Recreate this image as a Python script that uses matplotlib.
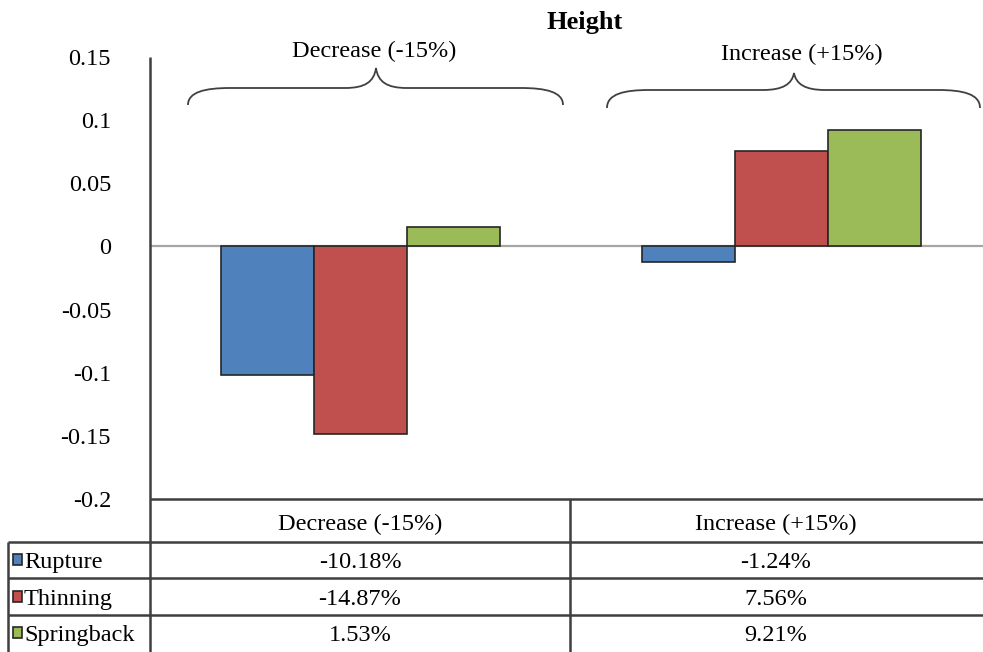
import numpy as np
import matplotlib.pyplot as plt
from matplotlib.path import Path
from matplotlib.patches import PathPatch, Rectangle

plt.rcParams['font.family'] = ['Liberation Serif', 'DejaVu Serif']

# Relative change of each response for the two height variations.
categories = ["Decrease (-15%)", "Increase (+15%)"]
series = ["Rupture", "Thinning", "Springback"]
rupture = [-0.1018, -0.0124]
thinning = [-0.1487, 0.0756]
springback = [0.0153, 0.0921]
colors = ["#4F81BD", "#C0504D", "#9BBB59"]
yticks = [-0.2, -0.15, -0.1, -0.05, 0, 0.05, 0.1, 0.15]
ytick_labels = ["-0.2", "-0.15", "-0.1", "-0.05", "0", "0.05", "0.1", "0.15"]

FS = 17.5
W, H = 983, 652
fig = plt.figure(figsize=(W / 100, H / 100), dpi=100)
ax = fig.add_axes([150 / W, 1 - 499 / H, 833 / W, 442 / H])

x = np.arange(len(categories))
width = 0.221
for i, (vals, c) in enumerate(zip([rupture, thinning, springback], colors)):
    ax.bar(x + (i - 1) * width, vals, width, color=c, edgecolor="#262626",
           linewidth=1.2, zorder=3)

ax.axhline(0, color="#A6A6A6", lw=1.6, zorder=2)
ax.set_xlim(-0.5, 1.479)
ax.set_ylim(-0.2, 0.15)
ax.set_yticks(yticks)
ax.set_yticklabels(ytick_labels, fontsize=FS)
ax.tick_params(axis="y", length=0, pad=28)
ax.set_xticks([])
for s in ["top", "right", "bottom", "left"]:
    ax.spines[s].set_visible(False)

# overlay in pixel coordinates for the data table, braces and labels
ov = fig.add_axes([0, 0, 1, 1], facecolor="none")
ov.set_xlim(0, W)
ov.set_ylim(H, 0)
ov.axis("off")

ov.text(585, 22, "Height", ha="center", va="center", fontsize=19,
        fontweight="bold")

line_kw = dict(color="#3F3F3F", lw=1.8, solid_capstyle="butt")
# y axis line continues into the table
ov.plot([150, 150], [57, H], **line_kw)
ov.plot([150, W], [499, 499], **line_kw)
row_y = [542, 578, 615]
for y in row_y:
    ov.plot([8, W], [y, y], **line_kw)
ov.plot([8, 8], [542, H], **line_kw)
ov.plot([570, 570], [499, H], **line_kw)

col_mid = [360, 776]
for cx, cat in zip(col_mid, categories):
    ov.text(cx, 522, cat, ha="center", va="center_baseline", fontsize=FS)

row_mid = [560, 597, 633]
for name, vals, c, ym in zip(series, [rupture, thinning, springback],
                             colors, row_mid):
    ov.add_patch(Rectangle((13, ym - 6), 9, 11, facecolor=c,
                           edgecolor="#262626", lw=1.2))
    ov.text(24, ym, name, ha="left", va="center_baseline", fontsize=FS)
    for cx, v in zip(col_mid, vals):
        ov.text(cx, ym, f"{v * 100:.2f}%", ha="center",
                va="center_baseline", fontsize=FS)


def brace(x0, x1, tip, y_end, y_mid, y_tip):
    r = 42
    verts = [(x0, y_end),
             (x0, y_mid + 4), (x0 + 17, y_mid), (x0 + r, y_mid),
             (tip - 31, y_mid),
             (tip - 11, y_mid), (tip - 2, y_mid - 6), (tip, y_tip),
             (tip + 2, y_mid - 6), (tip + 11, y_mid), (tip + 31, y_mid),
             (x1 - r, y_mid),
             (x1 - 17, y_mid), (x1, y_mid + 4), (x1, y_end)]
    codes = [Path.MOVETO,
             Path.CURVE4, Path.CURVE4, Path.CURVE4,
             Path.LINETO,
             Path.CURVE4, Path.CURVE4, Path.CURVE4,
             Path.CURVE4, Path.CURVE4, Path.CURVE4,
             Path.LINETO,
             Path.CURVE4, Path.CURVE4, Path.CURVE4]
    ov.add_patch(PathPatch(Path(verts, codes), facecolor="none",
                           edgecolor="#404040", lw=1.3))


brace(188, 563, 376, 105, 88, 68)
brace(607, 980, 794, 108, 90, 73)
ov.text(374, 49, categories[0], ha="center", va="center_baseline",
        fontsize=FS)
ov.text(802, 52, categories[1], ha="center", va="center_baseline",
        fontsize=FS)

fig.savefig("out.png", dpi=100)
